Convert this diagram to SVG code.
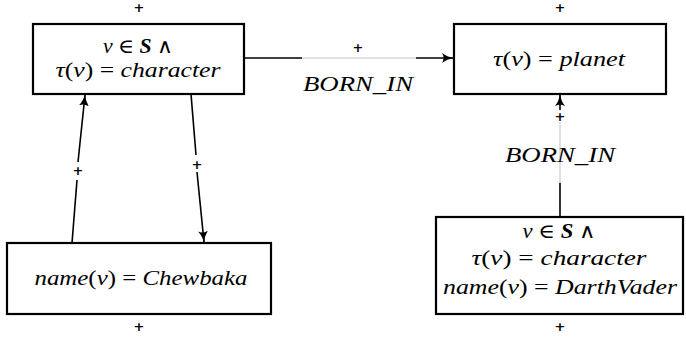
<svg xmlns="http://www.w3.org/2000/svg" width="686" height="337" viewBox="0 0 686 337">
<style>
.box{fill:#fff;stroke:#000;stroke-width:2.2}
.m{font-family:'Liberation Serif','DejaVu Serif',serif;font-size:20px;font-style:italic;fill:#000;text-anchor:middle}
.u{font-style:normal}
.b{font-weight:bold}
.p{font-family:'DejaVu Sans',sans-serif;font-size:13px;font-weight:bold;fill:#000;text-anchor:middle}
.e{fill:none;stroke:#000;stroke-width:1.6}
.g{fill:none;stroke:#d8d8d8;stroke-width:1.6}
</style>
<defs>
<marker id="ah" viewBox="0 0 12 10" refX="11" refY="5" markerWidth="12" markerHeight="10" markerUnits="userSpaceOnUse" orient="auto">
<path d="M0,0 Q5,4 12,5 Q5,6 0,10 Q3,5 0,0 Z" fill="#000"/>
</marker>
</defs>
<g id="connectors">
<line class="e" x1="244" y1="58" x2="302" y2="58"/>
<line class="g" x1="302" y1="58" x2="416" y2="58"/>
<line class="e" x1="416" y1="58" x2="453" y2="58" marker-end="url(#ah)"/>
<text class="p" x="358" y="52">+</text>
<text class="m" x="358" y="91" textLength="110" lengthAdjust="spacingAndGlyphs">BORN_IN</text>
<line class="e" x1="560" y1="217" x2="560" y2="183"/>
<line class="g" x1="560" y1="183" x2="560" y2="122"/>
<line class="e" x1="560" y1="110" x2="560" y2="95" marker-end="url(#ah)"/>
<text class="p" x="560" y="121">+</text>
<text class="m" x="560" y="162" textLength="110" lengthAdjust="spacingAndGlyphs">BORN_IN</text>
<line class="e" x1="72" y1="243" x2="77" y2="180"/>
<line class="e" x1="78" y1="162" x2="85" y2="95" marker-end="url(#ah)"/>
<text class="p" x="78" y="175">+</text>
<line class="e" x1="191" y1="94" x2="196" y2="155"/>
<line class="e" x1="197" y1="172" x2="204" y2="242" marker-end="url(#ah)"/>
<text class="p" x="197" y="169">+</text>
</g>
<g id="n1">
<rect class="box" x="33" y="24" width="211" height="70"/>
<text class="p" x="139" y="12">+</text>
<text class="m" x="138" y="53" textLength="70" lengthAdjust="spacingAndGlyphs">v <tspan class="u">∈</tspan> <tspan class="b">S</tspan> <tspan class="u">∧</tspan></text>
<text class="m" x="138" y="77" textLength="165" lengthAdjust="spacingAndGlyphs">τ<tspan class="u">(</tspan>v<tspan class="u">) = </tspan>character</text>
</g>
<g id="n2">
<rect class="box" x="454" y="24" width="212" height="70"/>
<text class="p" x="560" y="12">+</text>
<text class="m" x="559" y="66" textLength="132" lengthAdjust="spacingAndGlyphs">τ<tspan class="u">(</tspan>v<tspan class="u">) = </tspan>planet</text>
</g>
<g id="n3">
<rect class="box" x="7" y="243" width="264" height="71"/>
<text class="p" x="139" y="331">+</text>
<text class="m" x="141" y="285" textLength="213" lengthAdjust="spacingAndGlyphs">name<tspan class="u">(</tspan>v<tspan class="u">) = </tspan>Chewbaka</text>
</g>
<g id="n4">
<rect class="box" x="436" y="217" width="247" height="97"/>
<text class="p" x="560" y="331">+</text>
<text class="m" x="559" y="238" textLength="73" lengthAdjust="spacingAndGlyphs">v <tspan class="u">∈</tspan> <tspan class="b">S</tspan> <tspan class="u">∧</tspan></text>
<text class="m" x="559" y="265" textLength="175" lengthAdjust="spacingAndGlyphs">τ<tspan class="u">(</tspan>v<tspan class="u">) = </tspan>character</text>
<text class="m" x="560" y="294" textLength="234" lengthAdjust="spacingAndGlyphs">name<tspan class="u">(</tspan>v<tspan class="u">) = </tspan>DarthVader</text>
</g>
</svg>
